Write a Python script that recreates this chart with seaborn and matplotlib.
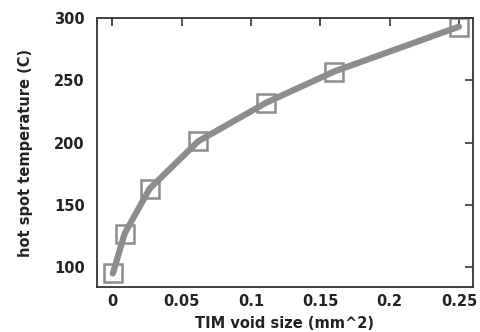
import seaborn as sns
from matplotlib import pyplot as plt
import pandas as pd

void_size = [0.0005, 0.009, 0.027, 0.062, 0.111, 0.16, 0.25]
temperature = [95, 127, 163, 201, 232, 257, 293]

sns.set_style('white')
plt.rcParams['font.family'] = ['DejaVu Sans']
plt.rcParams['font.weight'] = 'bold'

df = pd.DataFrame({'size': void_size, 'temp': temperature})

fig, ax = plt.subplots(figsize=(4.81, 3.32), dpi=100)
sns.lineplot(data=df, x='size', y='temp', ax=ax, color='#8c8c8c', linewidth=4.5,
             marker='s', markersize=13, markerfacecolor='none',
             markeredgecolor='#8c8c8c', markeredgewidth=1.8)

ax.set_xlim(-0.0108, 0.26)
ax.set_ylim(84, 300)
ax.set_xticks([0, 0.05, 0.1, 0.15, 0.2, 0.25])
ax.set_xticklabels(['0', '0.05', '0.1', '0.15', '0.2', '0.25'])
ax.set_yticks([100, 150, 200, 250, 300])
ax.tick_params(direction='in', length=6, width=1.2, top=True, right=True,
               labelsize=10.5, color='#333333', labelcolor='#222222', pad=5)
ax.tick_params(axis='y', pad=9)
for s in ax.spines.values():
    s.set_color('#333333')
    s.set_linewidth(1.3)
ax.set_xlabel('TIM void size (mm^2)', fontsize=10.5, fontweight='bold', color='#222222', labelpad=5)
ax.set_ylabel('hot spot temperature (C)', fontsize=10.5, fontweight='bold', color='#222222', labelpad=15)

fig.subplots_adjust(left=0.202, right=0.983, top=0.946, bottom=0.135)
plt.savefig('out.png', dpi=100)
